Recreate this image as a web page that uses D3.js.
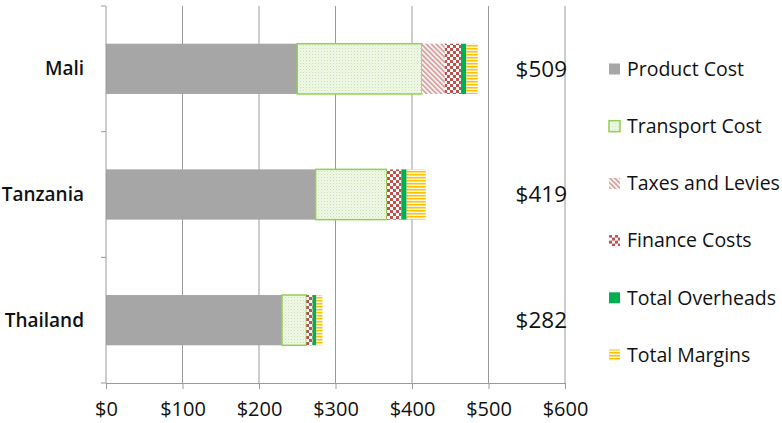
<!DOCTYPE html>
<html><head><meta charset="utf-8">
<script src="https://cdn.jsdelivr.net/npm/d3@7"></script>
<style>
body{margin:0;background:#fff;}
svg{display:block;font-family:"Open Sans", Lato, sans-serif;}
</style></head>
<body>
<svg id="chart" width="782" height="423"></svg>
<script>
const categories = ["Mali", "Tanzania", "Thailand"];
const seriesNames = ["Product Cost", "Transport Cost", "Taxes and Levies", "Finance Costs", "Total Overheads", "Total Margins"];
const productCost    = [250, 274, 230];
const transportCost  = [163, 93, 32];
const taxesLevies    = [30, 0, 0];
const financeCosts   = [21, 19, 8];
const totalOverheads = [7, 7, 5];
const totalMargins   = [15, 25, 8];
const totalLabels    = ["$509", "$419", "$282"];
const xTicks = [0, 100, 200, 300, 400, 500, 600];

const seriesValues = [productCost, transportCost, taxesLevies, financeCosts, totalOverheads, totalMargins];
const fills = ["#a6a6a6", "url(#pTransport)", "url(#pTaxes)", "url(#pFinance)", "#00b050", "url(#pMargins)"];
const strokes = [null, "#92d050", null, null, null, null];

const svg = d3.select("#chart");
const defs = svg.append("defs");

// Patterns
let p = defs.append("pattern").attr("id","pTransport").attr("patternUnits","userSpaceOnUse").attr("width",3).attr("height",3);
p.append("rect").attr("width",3).attr("height",3).attr("fill","#f1f8ea");
p.append("rect").attr("width",1).attr("height",1).attr("fill","#c6e2a8");
p.append("rect").attr("x",1.5).attr("y",1.5).attr("width",1).attr("height",1).attr("fill","#d8ecc4");

p = defs.append("pattern").attr("id","pTaxes").attr("patternUnits","userSpaceOnUse").attr("width",3.5).attr("height",3.5).attr("patternTransform","rotate(-45)");
p.append("rect").attr("width",3.5).attr("height",3.5).attr("fill","#fbf3f3");
p.append("rect").attr("width",1.6).attr("height",3.5).attr("fill","#d49c9b");

p = defs.append("pattern").attr("id","pFinance").attr("patternUnits","userSpaceOnUse").attr("width",6).attr("height",6);
p.append("rect").attr("width",6).attr("height",6).attr("fill","#ffffff");
p.append("rect").attr("width",3).attr("height",3).attr("fill","#c0504d");
p.append("rect").attr("x",3).attr("y",3).attr("width",3).attr("height",3).attr("fill","#c0504d");

p = defs.append("pattern").attr("id","pMargins").attr("patternUnits","userSpaceOnUse").attr("width",3).attr("height",3);
p.append("rect").attr("width",3).attr("height",3).attr("fill","#fff8e0");
p.append("rect").attr("width",3).attr("height",1.5).attr("fill","#ffc000");

const x = d3.scaleLinear().domain([0, 600]).range([106, 565]);
const y = d3.scaleBand().domain(categories).range([6, 383]).paddingInner(0.6).paddingOuter(0.3);

const gridColor = "#9a9a9a";

// gridlines
svg.append("g").selectAll("line").data(xTicks.slice(1)).join("line")
  .attr("x1", d => x(d)).attr("x2", d => x(d))
  .attr("y1", 6).attr("y2", 383)
  .attr("stroke", gridColor).attr("stroke-width", 1);

// stacked bars
const stackData = categories.map((c, i) => {
  const o = {cat: c};
  seriesNames.forEach((s, k) => o[s] = seriesValues[k][i]);
  return o;
});
const stacked = d3.stack().keys(seriesNames)(stackData);

stacked.forEach((layer, k) => {
  svg.append("g").selectAll("rect").data(layer.filter(d => d[1] > d[0])).join("rect")
    .attr("x", d => x(d[0]))
    .attr("y", d => y(d.data.cat))
    .attr("width", d => x(d[1]) - x(d[0]))
    .attr("height", y.bandwidth())
    .attr("fill", fills[k])
    .attr("stroke", strokes[k] || "none")
    .attr("stroke-width", strokes[k] ? 1.5 : 0);
});

// y axis
svg.append("line").attr("x1", x(0)).attr("x2", x(0)).attr("y1", 6).attr("y2", 383)
  .attr("stroke", gridColor);
const bounds = d3.range(categories.length + 1).map(i => y.range()[0] + i * y.step());
svg.append("g").selectAll("line").data(bounds).join("line")
  .attr("x1", x(0) - 5).attr("x2", x(0))
  .attr("y1", d => d).attr("y2", d => d)
  .attr("stroke", gridColor);
svg.append("g").selectAll("text").data(categories).join("text")
  .attr("x", 84).attr("y", d => y(d) + y.bandwidth() / 2)
  .attr("dy", "0.35em").attr("text-anchor", "end")
  .attr("font-size", 19).attr("font-weight", 600).attr("fill", "#111")
  .text(d => d);

// x axis
const xAxis = svg.append("g").attr("transform", "translate(0,383)")
  .call(d3.axisBottom(x).tickValues(xTicks).tickSize(6).tickSizeOuter(0).tickFormat(d => "$" + d));
xAxis.select(".domain").attr("stroke", gridColor);
xAxis.selectAll(".tick line").attr("stroke", gridColor);
xAxis.selectAll(".tick text").attr("font-size", 20).attr("font-family", "'Open Sans', sans-serif")
  .attr("fill", "#111").attr("dy", "1.2em");

// total labels
svg.append("g").selectAll("text").data(categories).join("text")
  .attr("x", x(600) + 2).attr("y", d => y(d) + y.bandwidth() / 2)
  .attr("dy", "0.35em").attr("text-anchor", "end")
  .attr("font-size", 22.5).attr("fill", "#111")
  .text((d, i) => totalLabels[i]);

// legend
const legendY = d3.scalePoint().domain(seriesNames).range([69, 355]);
const lg = svg.append("g").selectAll("g").data(seriesNames).join("g")
  .attr("transform", d => `translate(609,${legendY(d)})`);
lg.append("rect").attr("x", 0).attr("y", -5.5).attr("width", 11).attr("height", 11)
  .attr("fill", (d, k) => fills[k])
  .attr("stroke", (d, k) => strokes[k] || "none").attr("stroke-width", 1.5);
lg.append("text").attr("x", 18).attr("dy", "0.35em")
  .attr("font-size", 19.5).attr("fill", "#111").text(d => d);
</script>
</body></html>
